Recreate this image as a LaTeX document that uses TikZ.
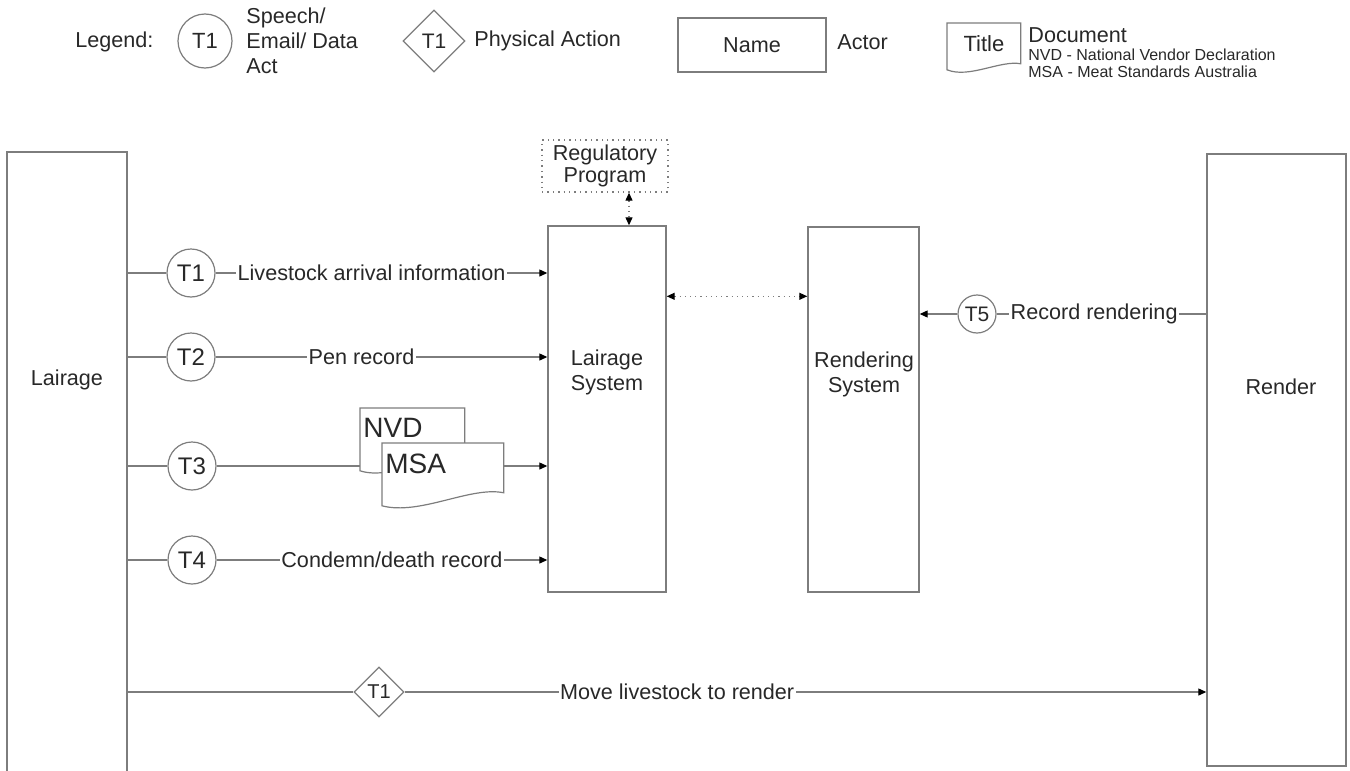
\documentclass[tikz,border=0pt]{standalone}
\usepackage{fontspec}
\setmainfont{Liberation Sans}
\usetikzlibrary{shapes.geometric, arrows.meta, backgrounds}

\definecolor{linegray}{RGB}{125,125,125}
\definecolor{textgray}{RGB}{40,40,40}

\tikzset{
  txt/.style={inner sep=0pt, text=textgray, font=\fontsize{10.8}{12.5}\selectfont},
  actor/.style={draw=linegray, line width=0.7pt, rectangle, inner sep=0pt},
  speech/.style={draw=linegray, line width=0.6pt, circle, inner sep=0pt, minimum size=24pt, text=textgray, font=\fontsize{12}{14}\selectfont},
  physical/.style={draw=linegray, line width=0.6pt, diamond, inner sep=0pt, minimum size=25pt, text=textgray, font=\fontsize{10}{12}\selectfont},
  docbox/.style={anchor=north west, inner sep=0pt, inner xsep=1.5pt, align=left, text=textgray, font=\fontsize{14}{16}\selectfont},
  flow/.style={draw=linegray, line width=0.6pt},
  msg/.style={flow, -{Triangle[length=4pt, width=3.5pt, color=black]}},
  link/.style={flow, dotted, {Triangle[length=4pt, width=3.5pt, color=black]}-{Triangle[length=4pt, width=3.5pt, color=black]}},
  lbl/.style={txt, fill=white, inner sep=0.8pt}
}

\begin{document}
\begin{tikzpicture}[x=0.5pt, y=-0.5pt]
\useasboundingbox (0,0) rectangle (1350,771);
\clip (0,0) rectangle (1350,771);

% legend
\node[txt, anchor=west] (legend) at (75,42) {Legend:};
\node[speech, minimum size=27pt, font=\fontsize{11}{13}\selectfont] (keyspeech) at (205,41) {T1};
\node[txt, anchor=west, align=left] (keyspeechtxt) at (246,41) {Speech/\\Email/ Data\\Act};
\node[physical, minimum size=31pt, font=\fontsize{10.5}{12}\selectfont] (keyphys) at (434,41) {T1};
\node[txt, anchor=west] (keyphystxt) at (474,41) {Physical Action};
\node[actor, minimum width=74pt, minimum height=27pt, txt] (keyactor) at (752,45) {Name};
\node[txt, anchor=west] (keyactortxt) at (837,42) {Actor};
\node[anchor=north west, inner sep=0pt, minimum width=36.5pt, minimum height=20pt, text=textgray, font=\fontsize{11}{13}\selectfont] (keydoc) at (947,23) {Title};
\node[txt, anchor=west] (keydoctxt) at (1028,35) {Document};
\node[txt, anchor=west, font=\fontsize{8}{9.5}\selectfont] (keynvd) at (1028,55) {NVD - National Vendor Declaration};
\node[txt, anchor=west, font=\fontsize{8}{9.5}\selectfont] (keymsa) at (1028,72) {MSA - Meat Standards Australia};

% actors
\node[actor, minimum width=60pt, minimum height=319pt] (lairage) at (67,471) {};
\node[txt] (lairagetxt) at (67,380) {Lairage};
\node[actor, minimum width=59pt, minimum height=183pt] (lairsys) at (607,409) {};
\node[txt, align=center] (lairsystxt) at (607,372) {Lairage\\System};
\node[actor, minimum width=55.5pt, minimum height=182.5pt] (rendsys) at (863.5,409.5) {};
\node[txt, align=center] (rendsystxt) at (864,374) {Rendering\\System};
\node[actor, minimum width=69.5pt, minimum height=306pt] (render) at (1276.5,460) {};
\node[txt] (rendertxt) at (1281,387) {Render};
\node[actor, dotted, minimum width=63pt, minimum height=26pt, txt, align=center, font=\fontsize{10.8}{11}\selectfont] (reg) at (605,166) {Regulatory\\Program};

% acts
\node[speech] (t1) at (191,273) {T1};
\node[speech] (t2) at (191,357) {T2};
\node[speech] (t3) at (192,466) {T3};
\node[speech] (t4) at (192,560) {T4};
\node[speech, minimum size=19pt, font=\fontsize{10.5}{12}\selectfont] (t5) at (977,314) {T5};
\node[physical] (act) at (379,692) {T1};

% documents
\node[docbox, text width=49pt, text height=14.5pt, text depth=10.5pt] (nvd) at (360,408) {NVD};
\node[docbox, text width=57.5pt, text height=15pt, text depth=9.5pt] (msa) at (382,443) {MSA};
\begin{scope}[on background layer]
\draw[flow, fill=white] (keydoc.north west) -- (keydoc.north east) -- (keydoc.south east)
  .. controls ([shift={(-20,-4)}]keydoc.south east) and ([shift={(22,15)}]keydoc.south west) .. ([shift={(0,6)}]keydoc.south west) -- cycle;
\draw[flow, fill=white] (nvd.north west) -- (nvd.north east) -- (nvd.south east)
  .. controls ([shift={(-30,-6)}]nvd.south east) and ([shift={(31,22)}]nvd.south west) .. ([shift={(0,12)}]nvd.south west) -- cycle;
\draw[flow, fill=white] (msa.north west) -- (msa.north east) -- (msa.south east)
  .. controls ([shift={(-33,-7)}]msa.south east) and ([shift={(38,23)}]msa.south west) .. ([shift={(0,13)}]msa.south west) -- cycle;
\end{scope}

% connectors
\draw[flow] (lairage.east |- t1) -- (t1);
\draw[msg] (t1) -- node[lbl, pos=0.47] {Livestock arrival information} (lairsys.west |- t1);
\draw[flow] (lairage.east |- t2) -- (t2);
\draw[msg] (t2) -- node[lbl, pos=0.44] {Pen record} (lairsys.west |- t2);
\draw[flow] (lairage.east |- t3) -- (t3);
\draw[flow] (t3) -- (nvd.west |- t3);
\draw[msg] (msa.east |- t3) -- (lairsys.west |- t3);
\draw[flow] (lairage.east |- t4) -- (t4);
\draw[msg] (t4) -- node[lbl, pos=0.53] {Condemn/death record} (lairsys.west |- t4);
\draw[flow] (render.west |- t5) -- node[lbl, pos=0.535] {Record rendering} (t5);
\draw[msg] (t5) -- (rendsys.east |- t5);
\draw[flow] (lairage.east |- act) -- (act);
\draw[msg] (act) -- node[lbl, pos=0.34] {Move livestock to render} (render.west |- act);

\coordinate (syslink) at ([shift={(0,71)}]lairsys.north east);
\draw[link] (syslink) -- (syslink -| rendsys.west);
\coordinate (reglink) at ([shift={(24,0)}]reg.south);
\draw[link] (reglink) -- (reglink |- lairsys.north);
\end{tikzpicture}
\end{document}
